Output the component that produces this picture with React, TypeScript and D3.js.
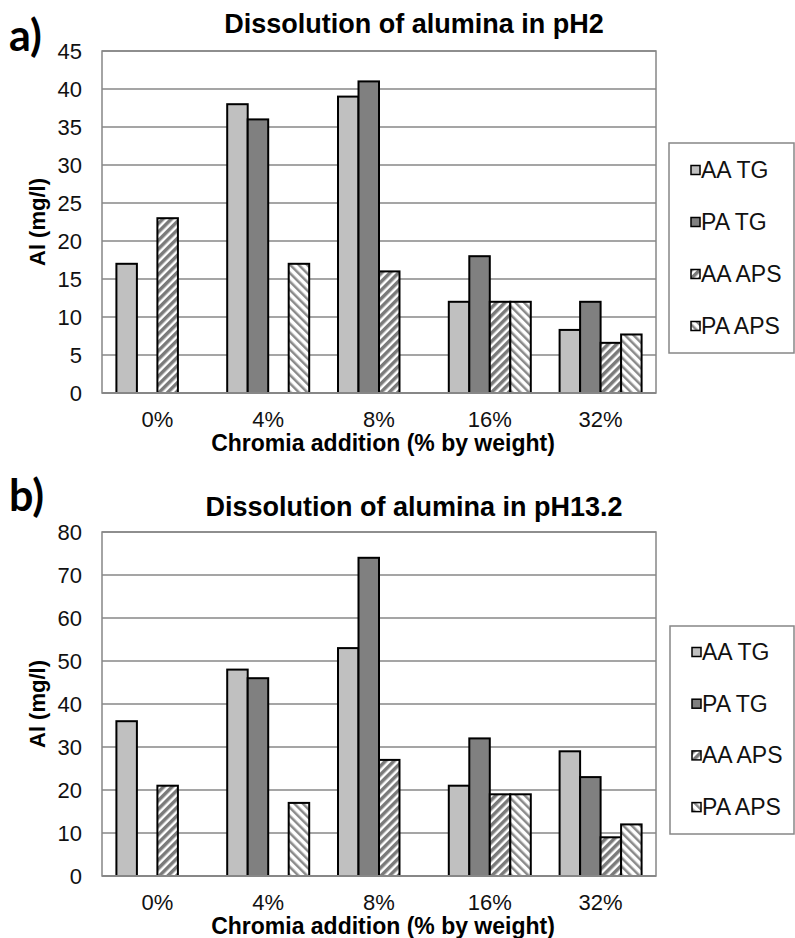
import React from "react";
import * as d3 from "d3";

// Chromia content of the alumina samples
const categories = ["0%", "4%", "8%", "16%", "32%"];
const seriesNames = ["AA TG", "PA TG", "AA APS", "PA APS"];

// Dissolved Al (mg/l) at pH 2
const ph2AATG: (number | null)[] = [17, 38, 39, 12, 8.3];
const ph2PATG: (number | null)[] = [null, 36, 41, 18, 12];
const ph2AAAPS: (number | null)[] = [23, null, 16, 12, 6.6];
const ph2PAAPS: (number | null)[] = [null, 17, null, 12, 7.7];

// Dissolved Al (mg/l) at pH 13.2
const ph13AATG: (number | null)[] = [36, 48, 53, 21, 29];
const ph13PATG: (number | null)[] = [null, 46, 74, 32, 23];
const ph13AAAPS: (number | null)[] = [21, null, 27, 19, 9];
const ph13PAAPS: (number | null)[] = [null, 17, null, 19, 12];

const ph2Ticks = [0, 5, 10, 15, 20, 25, 30, 35, 40, 45];
const ph13Ticks = [0, 10, 20, 30, 40, 50, 60, 70, 80];

const W = 795;
const H = 938;
const FONT = "'Liberation Sans', Arial, sans-serif";
const GRID = "#878787";

const fills = ["#c0c0c0", "#808080", "url(#stripeUp)", "url(#stripeDown)"];

type PanelProps = {
  tag: string;
  title: string;
  series: (number | null)[][];
  ticks: number[];
  top: number;
  bottom: number;
  titleY: number;
  tagY: number;
  legend: { x: number; top: number; bottom: number; firstY: number; step: number };
};

function Panel({ tag, title, series, ticks, top, bottom, titleY, tagY, legend }: PanelProps) {
  const left = 102;
  const right = 656;
  const y = d3
    .scaleLinear()
    .domain([0, ticks[ticks.length - 1]])
    .range([bottom, top]);
  const x0 = d3
    .scaleBand<string>()
    .domain(categories)
    .range([left, right])
    .paddingInner(0.26)
    .paddingOuter(0.13);
  const x1 = d3
    .scaleBand<string>()
    .domain(seriesNames)
    .range([0, x0.bandwidth()])
    .padding(0);

  return (
    <g>
      <text x={9} y={tagY} fontFamily="Lato, 'Open Sans', sans-serif" fontWeight={700} fontSize={43}>
        {tag}
      </text>
      <text x={414} y={titleY} textAnchor="middle" fontFamily={FONT} fontWeight={700} fontSize={27}>
        {title}
      </text>

      {/* gridlines */}
      {ticks.map((t) => (
        <line key={t} x1={left} x2={right} y1={y(t)} y2={y(t)} stroke={GRID} strokeWidth={1.5} />
      ))}
      <rect x={left} y={top} width={right - left} height={bottom - top} fill="none" stroke={GRID} strokeWidth={1.5} />

      {/* y tick labels */}
      {ticks.map((t) => (
        <text key={t} x={82} y={y(t) + 7.5} textAnchor="end" fontFamily={FONT} fontSize={22} fill="#111">
          {t}
        </text>
      ))}

      {/* bars */}
      {categories.map((c, ci) => (
        <g key={c} transform={`translate(${x0(c)},0)`}>
          {seriesNames.map((s, si) => {
            const v = series[si][ci];
            if (v == null) return null;
            return (
              <rect
                key={s}
                x={x1(s)}
                y={y(v)}
                width={x1.bandwidth()}
                height={y(0) - y(v)}
                fill={fills[si]}
                stroke="#000"
                strokeWidth={2}
              />
            );
          })}
        </g>
      ))}
      <line x1={left} x2={right} y1={bottom} y2={bottom} stroke={GRID} strokeWidth={2} />

      {/* category labels */}
      {categories.map((c) => (
        <text
          key={c}
          x={(x0(c) ?? 0) + x0.bandwidth() / 2}
          y={bottom + 34}
          textAnchor="middle"
          fontFamily={FONT}
          fontSize={22}
          fill="#111"
        >
          {c}
        </text>
      ))}

      <text x={383} y={bottom + 58} textAnchor="middle" fontFamily={FONT} fontWeight={700} fontSize={23}>
        Chromia addition (% by weight)
      </text>
      <text
        transform={`translate(45,${(top + bottom) / 2}) rotate(-90)`}
        textAnchor="middle"
        fontFamily={FONT}
        fontWeight={700}
        fontSize={22}
      >
        Al (mg/l)
      </text>

      {/* legend */}
      <rect
        x={legend.x}
        y={legend.top}
        width={W - 1 - legend.x}
        height={legend.bottom - legend.top}
        fill="#fff"
        stroke={GRID}
        strokeWidth={1.5}
      />
      {seriesNames.map((s, si) => {
        const cy = legend.firstY + si * legend.step;
        return (
          <g key={s}>
            <rect x={legend.x + 22} y={cy - 4.5} width={9} height={9} fill={fills[si]} stroke="#000" strokeWidth={1.5} />
            <text x={legend.x + 32} y={cy + 8} fontFamily={FONT} fontSize={23} fill="#111">
              {s}
            </text>
          </g>
        );
      })}
    </g>
  );
}

export default function App() {
  return (
    <svg
      width={W}
      height={H}
      viewBox={`0 0 ${W} ${H}`}
      style={{ position: "absolute", left: 0, top: 0, background: "#fff" }}
    >
      <defs>
        <pattern id="stripeUp" width={6} height={6} patternUnits="userSpaceOnUse" patternTransform="rotate(45)">
          <rect width={6} height={6} fill="#ffffff" />
          <rect width={3.5} height={6} fill="#7a7a7a" />
        </pattern>
        <pattern id="stripeDown" width={6} height={6} patternUnits="userSpaceOnUse" patternTransform="rotate(-45)">
          <rect width={6} height={6} fill="#ffffff" />
          <rect width={2.5} height={6} fill="#8a8a8a" />
        </pattern>
      </defs>
      <rect width={W} height={H} fill="#fff" />
      <Panel
        tag="a)"
        title="Dissolution of alumina in pH2"
        series={[ph2AATG, ph2PATG, ph2AAAPS, ph2PAAPS]}
        ticks={ph2Ticks}
        top={51}
        bottom={393}
        titleY={33}
        tagY={51}
        legend={{ x: 669, top: 143, bottom: 353, firstY: 170, step: 52 }}
      />
      <Panel
        tag="b)"
        title="Dissolution of alumina in pH13.2"
        series={[ph13AATG, ph13PATG, ph13AAAPS, ph13PAAPS]}
        ticks={ph13Ticks}
        top={532}
        bottom={876}
        titleY={516}
        tagY={511}
        legend={{ x: 670, top: 626, bottom: 834, firstY: 652, step: 51.7 }}
      />
    </svg>
  );
}
